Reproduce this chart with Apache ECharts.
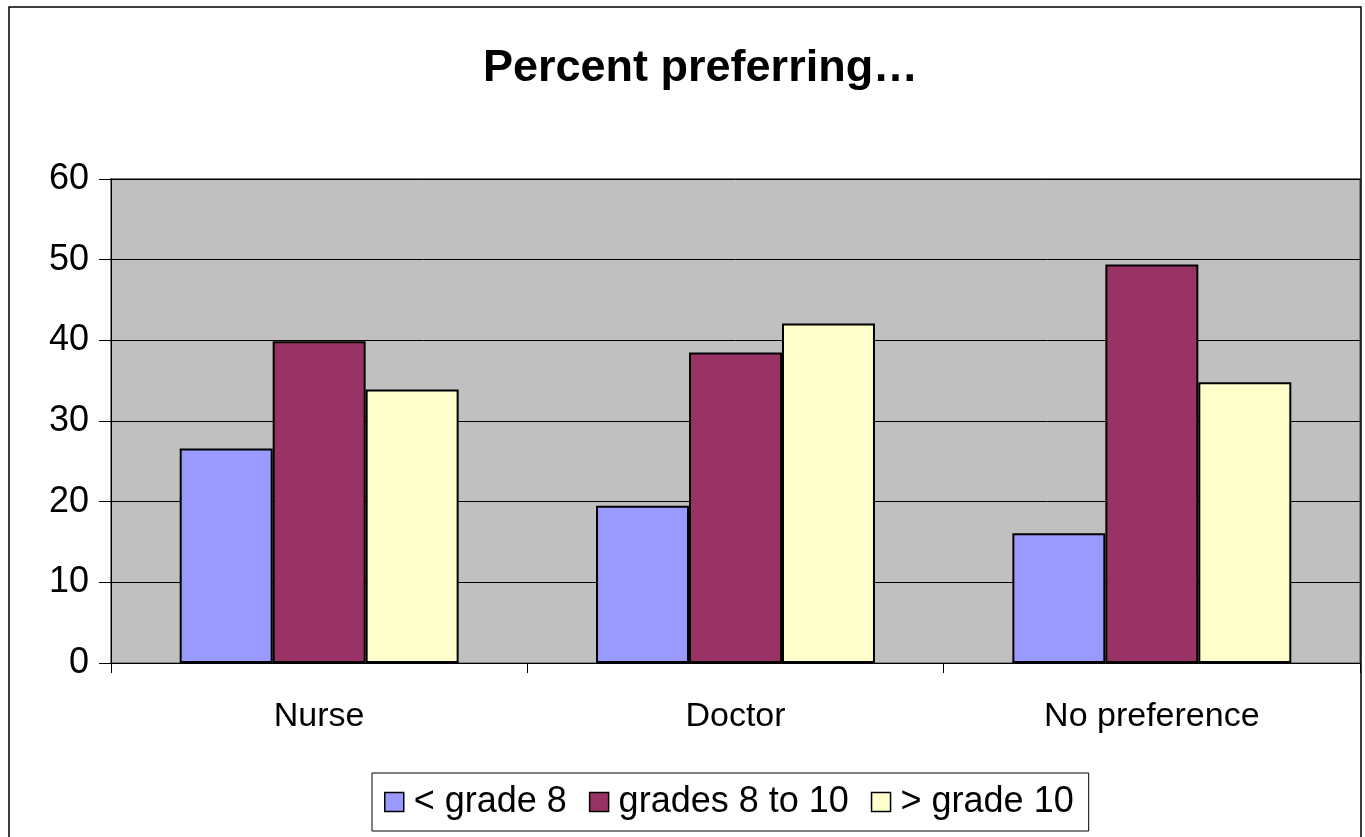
<!DOCTYPE html>
<html>
<head>
<meta charset="utf-8">
<script src="https://cdn.jsdelivr.net/npm/echarts@6/dist/echarts.min.js"></script>
<style>
html, body { margin: 0; padding: 0; background: #fff; }
#chart { width: 1365px; height: 837px; }
</style>
</head>
<body>
<div id="chart"></div>
<script>
var categories = ['Nurse', 'Doctor', 'No preference'];
var seriesNames = ['< grade 8', 'grades 8 to 10', '> grade 10'];
var below8 = [26.6, 19.5, 16.1];
var grades8to10 = [39.9, 38.5, 49.4];
var above10 = [33.9, 42.1, 34.8];
var yTicks = [0, 10, 20, 30, 40, 50, 60];

var colors = ['#9999ff', '#993366', '#ffffcc'];
var font = 'Liberation Sans, Arial, sans-serif';

var chart = echarts.init(document.getElementById('chart'));

function makeSeries(name, values, color) {
  return {
    name: name,
    type: 'bar',
    data: values,
    barGap: '0%',
    barCategoryGap: '33%',
    itemStyle: { color: color, borderColor: '#000', borderWidth: 2 },
    animation: false
  };
}

var option = {
  animation: false,
  title: {
    text: 'Percent preferring\u2026',
    left: 478,
    top: 41,
    textStyle: { fontFamily: font, fontSize: 45, fontWeight: 'bold', color: '#000' }
  },
  legend: {
    data: seriesNames,
    icon: 'rect',
    bottom: 6,
    left: 372,
    itemWidth: 19,
    itemHeight: 19,
    itemGap: 22,
    padding: [11, 15, 11, 12],
    borderColor: '#000',
    borderWidth: 1,
    backgroundColor: '#fff',
    textStyle: { fontFamily: font, fontSize: 36, color: '#000', padding: [0, 0, 0, 5] },
    itemStyle: { borderColor: '#000', borderWidth: 1.5 }
  },
  grid: {
    left: 111, right: 5, top: 179, bottom: 174,
    show: true,
    backgroundColor: '#c0c0c0',
    borderColor: '#808080',
    borderWidth: 2
  },
  xAxis: {
    type: 'category',
    data: categories,
    axisLine: { lineStyle: { color: '#000', width: 1 } },
    axisTick: { show: true, length: 10, lineStyle: { color: '#000' } },
    axisLabel: { fontFamily: font, fontSize: 34, color: '#000', margin: 37 }
  },
  yAxis: {
    type: 'value',
    min: yTicks[0],
    max: yTicks[yTicks.length - 1],
    interval: 10,
    axisLine: { show: true, lineStyle: { color: '#000', width: 1 } },
    axisTick: { show: true, length: 12, lineStyle: { color: '#000' } },
    axisLabel: { fontFamily: font, fontSize: 36, color: '#000', margin: 22 },
    splitLine: { lineStyle: { color: '#000', width: 1 } }
  },
  series: [
    makeSeries(seriesNames[0], below8, colors[0]),
    makeSeries(seriesNames[1], grades8to10, colors[1]),
    makeSeries(seriesNames[2], above10, colors[2])
  ],
  graphic: [{
    type: 'rect',
    shape: { x: 9, y: 7, width: 1352, height: 840 },
    style: { fill: 'none', stroke: '#000', lineWidth: 1.5 },
    silent: true,
    z: 100
  }]
};

chart.setOption(option);
</script>
</body>
</html>
